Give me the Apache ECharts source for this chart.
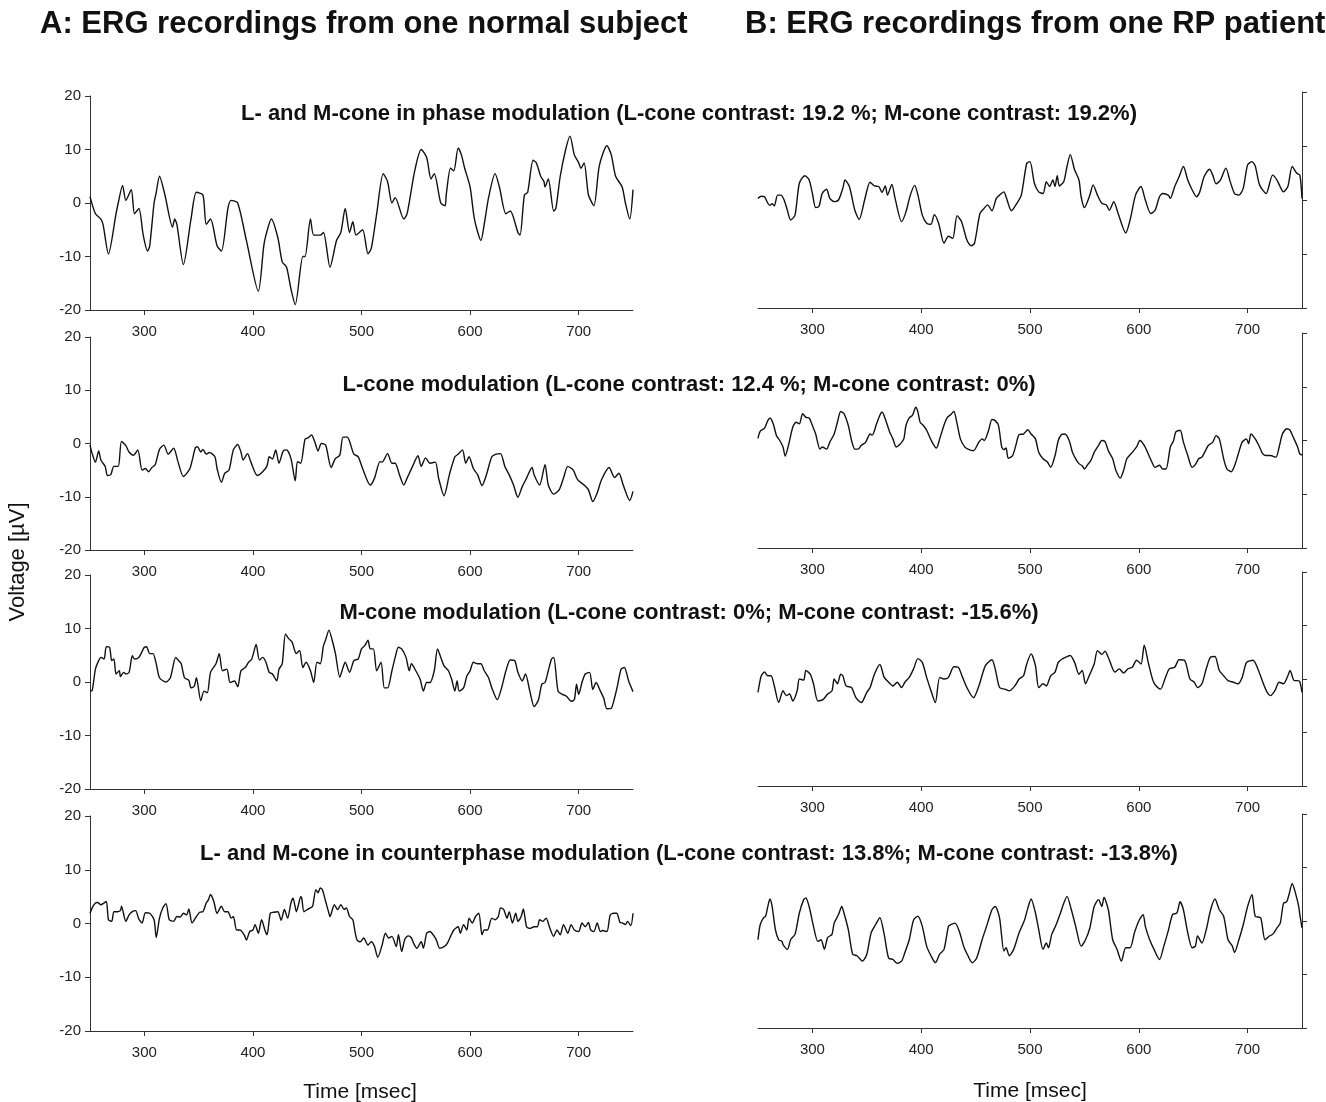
<!DOCTYPE html>
<html>
<head>
<meta charset="utf-8">
<title>ERG recordings</title>
<script src="https://cdn.jsdelivr.net/npm/echarts@6/dist/echarts.min.js"></script>
<style>
    html, body { margin: 0; padding: 0; background: #fff; }
    #main { width: 1326px; height: 1102px; }
</style>
</head>
<body>
<div id="main"></div>
<script>
// axis ticks
const timeTicks = [300, 400, 500, 600, 700];
const voltTicks = [-20, -10, 0, 10, 20];

const columnTitles = ['A: ERG recordings from one normal subject', 'B: ERG recordings from one RP patient'];
const rowTitles = [
    'L- and M-cone in phase modulation (L-cone contrast: 19.2 %; M-cone contrast: 19.2%)',
    'L-cone modulation (L-cone contrast: 12.4 %; M-cone contrast: 0%)',
    'M-cone modulation (L-cone contrast: 0%; M-cone contrast: -15.6%)',
    'L- and M-cone in counterphase modulation (L-cone contrast: 13.8%; M-cone contrast: -13.8%)'
];

// traces [time msec, voltage µV]
const inPhaseNormal = [[250,1.2],[255,-2],[260,-3],[262,-4],[267,-9.5],[274,-2],[276,0],[280,3.3],[283,0.5],[288,2.5],[291,-2],[295,-1],[299,-6],[303,-9],[305,-8],[309,0],[311,2],[314,5],[319,1.5],[326,-4.5],[328,-3],[330,-4],[336,-11.5],[343,-3],[348,2],[354,1.5],[357,-4],[361,-3],[367,-8],[371,-9],[377,-1],[380,0.5],[386,0],[394,-7],[405,-16.5],[410,-8],[412,-6],[417,-3],[423,-6.5],[427,-11],[431,-12],[435,-16],[439,-19],[446,-10],[448,-10],[453,-3],[456,-6],[462,-6],[465,-5.5],[471,-12],[477,-7],[481,-5.5],[485,-1],[489,-5.5],[492,-3.5],[495,-6],[501,-5],[506,-9.5],[509,-8.5],[514,-2],[520,5.5],[524,4],[528,0],[531,1],[539,-3],[542,-2],[549,6],[555,10],[560,8.5],[564,4.5],[567,5.5],[573,0],[577,-0.5],[578,1.5],[582,6.5],[585,6],[589,10.3],[592,9],[595,6.5],[600,3],[604,-3],[610,-7],[613,-4],[617,1],[623,5.5],[627,3],[633,-2],[637,-1.5],[644,-5.5],[646,-6],[650,1.5],[653,2],[658,8],[661,7.5],[665,5],[668,4],[669,3],[672,4.5],[677,-1.5],[679,-1],[683,5],[688,10],[692,12.5],[696,9],[700,7.5],[702,6.5],[705,7.5],[709,1.5],[714,-0.5],[719,7],[726,10.7],[730,9],[734,5],[740,3],[743,0],[747,-3],[750,2.5]];
const lConeNormal = [[250,-0.3],[252,-1.9],[255,-3.5],[258,-1.4],[260,-3.1],[264,-4.3],[266,-6],[269,-5.9],[272,-4.3],[276,-4.3],[279,0.4],[283,-0.4],[286,-1.6],[290,-2.2],[294,-1.2],[298,-5],[301,-4.7],[304,-5.3],[307,-4.5],[310,-4],[314,-1.1],[318,-0.3],[322,-2],[327,-0.9],[331,-3.4],[336,-6.2],[342,-4.7],[347,-0.8],[349,-0.6],[352,-1.6],[354,-1.1],[357,-2],[360,-1.7],[365,-2.5],[367,-4.7],[371,-7.3],[374,-5.6],[378,-5],[382,-1.2],[386,-0.2],[389,-1.6],[391,-3.1],[395,-1.9],[398,-3.4],[404,-6],[409,-5.3],[413,-4.2],[415,-2.5],[418,-2.9],[421,-1.2],[424,-3.7],[428,-1.4],[431,-1.2],[435,-2.8],[439,-7],[441,-3.4],[444,-3.7],[448,0.8],[451,1.1],[454,1.6],[457,0.3],[460,-1.4],[463,0],[467,-0.3],[472,-4.5],[476,-2.8],[480,-2.2],[483,1.2],[487,1.2],[489,0.4],[493,-2],[497,-2.5],[501,-4.7],[508,-7.8],[512,-6.5],[517,-3.4],[519,-3.5],[524,-1.9],[528,-3.7],[531,-3.7],[535,-5.9],[539,-7.8],[542,-6.5],[547,-4.3],[552,-2.3],[555,-4.3],[559,-2.7],[563,-3.7],[568,-3.5],[571,-6.5],[576,-9.8],[581,-5.8],[586,-2.5],[589,-2],[593,-1.2],[596,-3.7],[599,-2.5],[603,-4.7],[607,-5.9],[611,-7.9],[615,-5.9],[620,-2.5],[624,-2],[628,-1.9],[632,-4.3],[636,-5.9],[640,-7.8],[644,-10.1],[648,-8.1],[652,-6.5],[657,-4.5],[659,-5.9],[664,-7.8],[669,-4],[672,-7.8],[677,-9.5],[682,-8.7],[686,-6.5],[690,-4.3],[695,-5],[699,-6.8],[705,-7.8],[709,-8.7],[713,-10.9],[717,-9.3],[721,-6.8],[728,-4.5],[733,-6.4],[737,-5.6],[741,-7.8],[747,-10.7],[750,-9]];
const mConeNormal = [[250,-1.7],[252,-1.6],[255,2.4],[258,4],[260,4.6],[263,4.3],[265,6.6],[268,6.5],[270,4],[272,4.3],[274,1.5],[277,2.1],[278,1],[281,1.8],[283,1.5],[286,1.8],[289,4.9],[291,4.3],[295,4.6],[300,6.5],[302,6.6],[305,5.3],[308,5.3],[311,3.4],[314,0.8],[320,0],[324,0.8],[329,4.6],[332,3.9],[334,3.4],[337,0.8],[341,0.3],[343,-1.1],[346,-0.8],[348,0.8],[352,-3.5],[355,-1.7],[358,-2],[361,1.8],[366,3.4],[369,5.3],[372,2.1],[376,2.4],[379,-0.1],[383,0.2],[386,-0.9],[389,2.1],[393,2.7],[396,3.7],[399,4.3],[403,7],[406,4.1],[409,4.6],[412,3.7],[415,1.8],[418,1.5],[422,0.2],[424,2.4],[427,3.4],[430,9],[433,8.1],[436,7.5],[440,5.3],[443,5.9],[446,2.7],[449,3.7],[453,2.1],[456,-0.1],[459,3.7],[462,3.4],[465,6.8],[467,7.9],[470,9.7],[473,7.8],[476,5.3],[480,0.9],[483,2.7],[485,3.7],[489,1.8],[493,4],[497,4.3],[500,6.2],[503,6.8],[506,7.8],[508,6.2],[511,6.2],[514,2.1],[518,3.7],[521,-1.1],[524,-1.1],[528,2.1],[531,4.6],[534,6.5],[537,6.2],[541,4.6],[544,2.1],[546,3.4],[550,2.1],[554,0.5],[557,-1.7],[560,-0.1],[563,-0.1],[567,2.1],[570,6.2],[573,4.6],[576,3],[580,2.1],[583,0.5],[586,-1.7],[588,0.2],[590,-1.7],[594,-1.1],[597,1.1],[600,2.1],[603,3.7],[607,3.4],[610,3.4],[613,2.1],[617,0.8],[620,-1.1],[625,-3.3],[629,-1.1],[633,2.1],[637,4.1],[641,4],[644,1.8],[648,0.2],[651,1.5],[655,-1.7],[659,-4.6],[663,-3.3],[666,-0.4],[669,-0.1],[672,2.1],[675,4.3],[677,4.6],[681,-1.7],[685,-2.3],[689,-2.7],[693,-3.6],[696,-3.3],[698,-0.4],[700,-2.3],[703,-0.1],[706,1.5],[710,1.8],[713,-1.4],[716,-0.1],[720,-1.7],[723,-3],[726,-5],[730,-4.9],[733,-3],[736,-0.4],[739,2.4],[742,2.7],[746,0.2],[750,-1.8]];
const counterNormal = [[250,1.9],[252,2.9],[255,3.8],[257,3.9],[260,3.5],[262,3.7],[265,4.1],[267,0.7],[270,0.4],[272,2.2],[275,2.2],[278,2.4],[279,3.2],[283,0.4],[286,1.6],[289,2.2],[292,2.4],[295,0.8],[298,0.1],[301,2],[305,1.9],[309,0.7],[311,-2.6],[314,1],[317,2.9],[320,3.7],[323,0.7],[327,0.4],[330,1.3],[333,1.2],[336,1.9],[339,1.6],[341,2.7],[344,0.1],[348,1.3],[351,2.1],[354,2.2],[357,3.8],[359,4.4],[361,5.4],[364,4.1],[367,1.9],[371,3.2],[374,2.2],[377,2.2],[380,1],[382,1.3],[385,-1.2],[388,-1.2],[392,-2.1],[394,-3.1],[397,-1.5],[400,-1.2],[402,-0.2],[405,-1.8],[408,0.7],[411,-1.2],[413,-2.1],[416,1.9],[419,2.1],[423,2.2],[426,0.6],[429,2.6],[432,1],[435,3.8],[437,4.7],[440,2.2],[442,3.5],[444,5],[445,4.7],[447,2.2],[450,2.6],[453,2.9],[455,3.2],[458,6.3],[460,5.7],[462,6.6],[464,6.3],[467,4.1],[470,1.9],[471,1.3],[475,3.5],[478,2.6],[481,3.5],[484,2.6],[486,2.9],[489,1.3],[492,0.7],[494,-1.5],[496,-3.1],[499,-3.4],[502,-2.7],[506,-4],[509,-3.4],[512,-4.3],[515,-6.3],[519,-4],[522,-1.8],[525,-2.7],[528,-2.4],[532,-4.3],[534,-2.1],[537,-5.2],[540,-2.9],[543,-2.3],[546,-2.7],[548,-3.7],[551,-4.6],[555,-3.4],[557,-4.6],[560,-1.8],[563,-1.5],[566,-2.1],[569,-3.1],[572,-4.6],[576,-4.3],[579,-3.7],[582,-2.4],[585,-1.2],[589,-0.6],[591,-1.8],[594,-0.2],[597,-1.2],[599,1],[602,0.1],[605,1.3],[608,1.9],[611,-2.1],[613,-1.2],[616,-1.2],[620,1],[623,0.7],[626,1.3],[628,2.9],[631,2.6],[634,1],[636,2.2],[639,0.1],[642,1.9],[644,0.4],[647,1.3],[649,2.7],[652,-0.6],[655,-0.9],[659,-0.6],[662,-0.6],[664,0.7],[667,0.4],[670,1],[673,-0.6],[677,-2.4],[680,-1.2],[683,-2.1],[686,-0.2],[690,-1.8],[693,-0.2],[696,-1.2],[700,-1.5],[703,0.1],[706,-0.6],[709,0.2],[711,-1.2],[714,-1.5],[717,0.1],[720,-1.5],[722,-1.3],[726,-1.5],[729,1.6],[732,1.9],[735,1.9],[738,0.2],[740,0.1],[743,-0.2],[745,0.4],[748,-0.4],[750,1.9]];

const inPhaseRP = [[250,0.3],[253,0.7],[256,0.6],[259,-0.6],[261,-1],[263,-0.7],[265,-1.1],[268,0.9],[271,0.9],[274,0],[277,-1.9],[280,-3.7],[284,-2.8],[288,3.1],[293,4.5],[297,3.7],[300,1.2],[303,-1.4],[306,-1.2],[309,1.2],[313,2],[316,0.3],[320,-0.3],[324,0],[328,2.2],[330,3.7],[334,2.5],[339,-1.9],[343,-3.6],[348,0],[353,3.3],[357,2.6],[361,2.5],[364,1.4],[367,2.6],[369,0.9],[373,2.9],[376,0.3],[382,-4],[386,-2.2],[390,0.9],[394,2.7],[397,0.9],[401,-2.8],[405,-4.3],[409,-4.5],[412,-2.7],[416,-4.3],[421,-8],[425,-6.7],[429,-7.1],[433,-2.9],[437,-4],[442,-7.4],[446,-8.5],[449,-8],[454,-2.5],[458,-1.5],[461,-0.9],[465,-2],[469,0.3],[472,0.9],[476,1.5],[478,0.6],[483,-2],[488,-0.6],[492,0.9],[497,6.8],[500,7.1],[504,3.1],[508,1.5],[512,1.2],[515,3.4],[518,2.5],[521,3.7],[523,2.5],[525,4.5],[527,2.6],[531,3.4],[534,6.2],[537,8.4],[541,5.6],[545,3.7],[547,0.6],[550,-1.4],[555,0.9],[558,2.8],[562,0.9],[566,-0.6],[570,-0.9],[573,-1.9],[577,-0.3],[581,-2.5],[588,-6.1],[592,-3.7],[597,0.9],[602,2.5],[606,0],[611,-2.5],[615,-1.9],[619,0.6],[622,1.2],[627,0.9],[629,0.3],[633,2.5],[637,4.3],[641,6.2],[645,3.7],[649,1.9],[653,0.6],[656,1.5],[660,4.3],[665,5.7],[668,4.6],[671,3],[675,3.7],[680,5.9],[684,3.4],[688,1.2],[692,0.9],[696,2.2],[700,6.5],[704,7.1],[707,6.3],[711,2.8],[717,1.2],[723,4.6],[727,3.7],[733,1.5],[737,2.5],[741,6.2],[745,5],[748,4.6],[750,0.3]];
const lConeRP = [[250,0.4],[252,1.7],[256,2.3],[259,3.7],[261,4.2],[264,3.1],[267,0.9],[270,0],[273,-1.2],[275,-2.9],[278,-0.9],[282,2.5],[285,3.4],[288,3.1],[291,5],[294,4.3],[297,4.2],[300,2.8],[303,1.2],[307,-1.6],[309,-1.2],[313,-1.6],[316,-0.3],[320,1.2],[323,3.4],[326,5.4],[329,5],[333,2.8],[336,0],[339,-1.6],[342,-1.6],[345,-0.9],[349,-0.3],[353,1.2],[355,1],[359,3.1],[362,4.7],[364,5.3],[367,4],[371,1.6],[374,0.3],[377,-1.2],[380,-0.8],[384,0.3],[386,2.8],[389,4.2],[392,4.7],[395,6.2],[397,5.3],[399,3.4],[402,2.8],[405,1.9],[410,-0.3],[414,-1.4],[417,0.3],[421,2.9],[424,4.3],[427,4.8],[430,5.4],[433,3.1],[436,0.3],[440,-1.2],[443,-1.6],[448,-1.9],[453,-0.3],[456,0.3],[458,0],[462,1.9],[465,3.9],[468,3.7],[471,2.8],[474,-1.2],[476,-1.7],[478,-1.4],[480,-3.3],[484,-2.8],[487,-0.9],[490,1.1],[494,1.2],[498,2],[501,1.2],[505,0.3],[508,-2.2],[512,-3.4],[516,-4],[519,-5],[523,-2.8],[526,0],[529,1.1],[532,1.2],[536,0],[539,-2.2],[542,-3.4],[545,-4.3],[548,-4.7],[550,-5.3],[553,-4.5],[556,-3.7],[559,-2.2],[563,-0.9],[566,0],[569,-0.2],[572,-1.9],[576,-3.4],[579,-5.6],[583,-7],[586,-5.6],[589,-3.4],[594,-2.2],[598,-1.2],[601,0],[605,-0.9],[608,-2.2],[612,-4],[615,-5],[619,-4.6],[622,-5.3],[625,-5.3],[629,-1.2],[632,0],[634,1.6],[638,1.9],[641,-0.3],[645,-2.8],[649,-5],[652,-4.5],[655,-3.4],[658,-3.1],[662,-1.6],[664,-0.9],[668,-0.3],[671,0.9],[674,0.3],[678,-3.4],[681,-5.3],[685,-5.8],[688,-4.7],[691,-2.8],[695,-0.3],[699,0.3],[701,-0.6],[703,1.2],[707,0.3],[711,-1.2],[714,-2.5],[717,-2.8],[721,-2.8],[726,-3.1],[729,-1.2],[732,1.2],[736,2.2],[739,1.9],[742,0.6],[746,-1.2],[748,-2.5],[750,-2.7]];
const mConeRP = [[250,-2.5],[253,0.6],[256,1.3],[259,0.6],[262,0.6],[265,-1.3],[269,-4.4],[273,-2.2],[276,-3.1],[279,-2.8],[282,-4.1],[286,-2.2],[288,0],[292,-0.2],[294,1.6],[298,0.9],[301,-0.9],[305,-4.1],[310,-3.8],[314,-2.8],[318,-2.2],[320,0],[323,-0.9],[326,0.9],[328,0.6],[331,-1.3],[336,-1.6],[340,-3.5],[345,-4.4],[350,-2.5],[353,-1.6],[357,0.9],[362,2.7],[366,0.3],[370,-0.6],[374,-1.3],[378,-0.6],[382,-1.6],[385,-0.6],[389,0.3],[393,1.9],[397,3.8],[401,3.1],[405,0.3],[409,-2.2],[413,-4.4],[417,0.3],[421,0],[425,0.3],[430,2.3],[434,2.2],[438,0.3],[442,-1.6],[448,-3.5],[453,-1.3],[459,2.5],[465,3.6],[468,1.9],[472,-1.6],[477,-1.9],[481,-2.2],[486,-1.3],[490,0],[494,0.6],[497,2.8],[501,4.7],[505,2.5],[508,-1.6],[512,-0.9],[515,-1.3],[519,0.6],[523,1.3],[526,3.1],[530,3.8],[533,4.1],[537,4.4],[541,3.1],[545,0.9],[548,1.6],[551,-0.9],[555,0.9],[559,2.8],[562,5.3],[566,4.6],[569,5.2],[573,3.5],[578,1.3],[582,1.9],[586,1.1],[590,1.9],[594,2.2],[598,3.5],[602,2.8],[605,6.3],[609,2.8],[613,-0.3],[616,-1.3],[620,-1.9],[624,0],[628,1.9],[633,2.2],[637,3.6],[642,3.5],[647,0],[651,-0.6],[654,-1.6],[658,-0.9],[662,1.9],[666,4.1],[670,4.2],[674,1.6],[678,0.6],[682,-0.3],[687,-0.6],[691,-0.9],[695,0.3],[699,3.1],[705,3.5],[710,1.6],[714,-0.6],[718,-2.5],[721,-3.1],[725,-2.2],[729,-0.6],[733,-0.9],[737,0.6],[739,1.6],[743,-0.3],[746,-0.3],[748,-0.5],[750,-2.5]];
const counterRP = [[250,-3.5],[252,-0.7],[255,0.6],[257,0.9],[259,2.7],[261,4.1],[263,2.7],[266,-1.6],[269,-3.5],[272,-3.8],[273,-4.4],[277,-5.3],[280,-3.5],[284,-2.5],[288,1.5],[292,4],[294,4.3],[297,2.7],[301,-1],[305,-3.8],[308,-3.5],[311,-5.3],[314,-3.1],[318,-2.5],[320,-0.4],[324,1.2],[327,2.7],[329,1.5],[333,-1.6],[337,-6.2],[341,-6.5],[346,-7.5],[350,-6.2],[354,-2.2],[358,-0.7],[362,0.6],[366,-2.5],[370,-6.9],[374,-7.2],[378,-7.9],[382,-7.5],[385,-5.9],[389,-3.5],[393,0.2],[397,0.9],[401,-1],[405,-4.7],[409,-6.5],[413,-7.8],[417,-6.2],[421,-5.3],[425,-1],[427,-0.7],[431,-0.4],[435,-1.9],[439,-4.7],[443,-6.5],[447,-7.8],[451,-6.9],[456,-3.5],[461,-0.4],[465,2.1],[468,2.7],[472,0.6],[476,-5.6],[478,-5],[481,-6.5],[485,-5.3],[490,-2.2],[495,0.2],[498,2.4],[501,4.1],[505,1.5],[508,-1.6],[512,-5.3],[515,-4.1],[517,-5],[520,-2.5],[524,-0.7],[528,1.5],[531,3.3],[534,4.6],[538,2.1],[542,-1],[547,-4.7],[551,-3.5],[555,-1.3],[559,2.7],[563,4],[566,2.7],[568,4.4],[572,2.1],[576,-3.5],[580,-5.3],[584,-7.5],[588,-5],[592,-5],[596,-2.2],[600,0],[604,1.2],[606,-1],[610,-3.5],[614,-5.3],[619,-7.2],[623,-4.7],[627,-1.9],[631,1.2],[635,1.5],[638,3.6],[641,2.1],[645,-2.2],[649,-5],[652,-4.7],[654,-2.8],[658,-4.1],[662,-1.6],[666,2.1],[670,4.1],[674,2.1],[678,0.9],[682,-3.5],[686,-4.7],[688,-5.9],[692,-3.5],[696,-0.7],[700,2.7],[704,4.9],[707,0.9],[712,0.6],[716,-3.5],[720,-2.8],[723,-2.5],[727,-1.3],[730,-0.4],[733,3.3],[736,3.6],[738,4.9],[741,7],[744,5.2],[747,2.7],[748,1.2],[750,-1.3]];

const normalTraces = [inPhaseNormal, lConeNormal, mConeNormal, counterNormal];
const patientTraces = [inPhaseRP, lConeRP, mConeRP, counterRP];

// panel layout (px)
const leftBoxes = [[90, 96, 543, 214], [90, 337, 543, 213], [90, 575, 543, 214], [90, 816, 543, 215]];
const rightBoxes = [[758, 92, 544, 216], [758, 333, 544, 215], [758, 572, 544, 214], [758, 814, 544, 214]];
const rowTitleY = [114, 385, 613, 854];

const FONT = "'Liberation Sans', Arial, Helvetica, sans-serif";
const INK = '#111';

const grids = [], xAxes = [], yAxes = [], series = [];

function addPanel(box, trace, side) {
    const idx = grids.length;
    grids.push({left: box[0], top: box[1], width: box[2], height: box[3]});
    xAxes.push({
        type: 'value', gridIndex: idx, min: 250, max: 750, position: 'bottom',
        axisLine: {show: true, onZero: false, lineStyle: {color: '#333', width: 1}},
        axisTick: {show: true, length: 5, customValues: timeTicks, lineStyle: {color: '#333'}},
        axisLabel: {show: true, customValues: timeTicks, margin: 14, fontSize: 15, color: '#222', fontFamily: FONT},
        splitLine: {show: false}
    });
    yAxes.push({
        type: 'value', gridIndex: idx, min: voltTicks[0], max: voltTicks[4], interval: 10,
        position: side,
        axisLine: {show: true, onZero: false, lineStyle: {color: '#333', width: 1}},
        axisTick: {show: true, length: 5, lineStyle: {color: '#333'}},
        axisLabel: {show: side === 'left', margin: 9, fontSize: 15, color: '#222', fontFamily: FONT},
        splitLine: {show: false}
    });
    series.push({
        type: 'line', xAxisIndex: idx, yAxisIndex: idx,
        data: trace, showSymbol: false, smooth: 0.25,
        lineStyle: {color: INK, width: 1.4},
        silent: true
    });
}

for (let i = 0; i < 4; i++) {
    addPanel(leftBoxes[i], normalTraces[i], 'left');
    addPanel(rightBoxes[i], patientTraces[i], 'right');
}

const graphics = [
    {type: 'text', x: 40, y: 24, style: {text: columnTitles[0], font: 'bold 31px ' + FONT, fill: INK, verticalAlign: 'middle'}},
    {type: 'text', x: 745, y: 24, style: {text: columnTitles[1], font: 'bold 31px ' + FONT, fill: INK, verticalAlign: 'middle'}},
    {type: 'text', x: 18, y: 562, rotation: Math.PI / 2, style: {text: 'Voltage [µV]', font: '22px ' + FONT, fill: INK, align: 'center', verticalAlign: 'middle'}},
    {type: 'text', x: 360, y: 1092, style: {text: 'Time [msec]', font: '21px ' + FONT, fill: INK, align: 'center', verticalAlign: 'middle'}},
    {type: 'text', x: 1030, y: 1091, style: {text: 'Time [msec]', font: '21px ' + FONT, fill: INK, align: 'center', verticalAlign: 'middle'}}
];
rowTitles.forEach(function (t, i) {
    graphics.push({type: 'text', x: 689, y: rowTitleY[i], z: 10,
        style: {text: t, font: 'bold 22px ' + FONT, fill: INK, align: 'center', verticalAlign: 'middle'}});
});

const chart = echarts.init(document.getElementById('main'), null, {renderer: 'canvas'});
chart.setOption({
    animation: false,
    backgroundColor: '#fff',
    grid: grids,
    xAxis: xAxes,
    yAxis: yAxes,
    series: series,
    graphic: graphics
});
</script>
</body>
</html>
